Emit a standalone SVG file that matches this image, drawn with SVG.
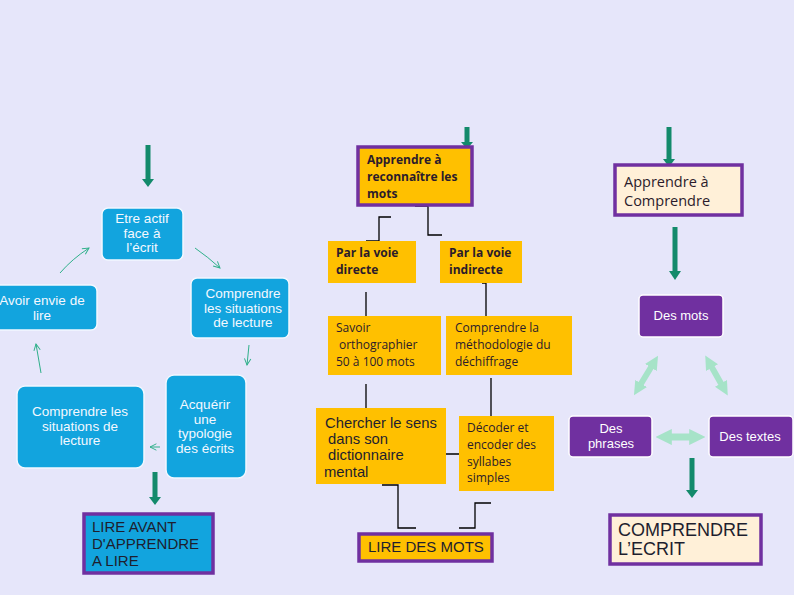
<svg xmlns="http://www.w3.org/2000/svg" width="794" height="595" viewBox="0 0 794 595">
<defs>
<style>
.bg{fill:#E6E6FA}
.blue{fill:#12A4DE;stroke:#F2F8FF;stroke-width:1.5}
.bt{font-family:"Liberation Sans",Arial,sans-serif;font-size:13.5px;fill:#F4F8FF;text-anchor:middle}
.or{fill:#FFC000}
.pb{stroke:#7030A0;stroke-width:3.5}
.ot{font-family:"Open Sans","Noto Sans",sans-serif;font-size:12px;font-weight:bold;fill:#2B1B2B}
.on{font-family:"Open Sans","Noto Sans",sans-serif;font-size:12px;fill:#2B1B2B}
.lt{font-family:"Liberation Sans",Arial,sans-serif;font-size:15px;fill:#1E1E2E}
.cream{fill:#FFF0D8}
.purple{fill:#7030A0;stroke:#FFFFFF;stroke-width:1.5}
.wt{font-family:"Liberation Sans",Arial,sans-serif;font-size:13px;fill:#FFFFFF;text-anchor:middle}
.ln{fill:none;stroke:#000000;stroke-width:1.3}
.thin{fill:none;stroke:#2FB08A;stroke-width:1}
.lg{fill:none;stroke:#A6E3C8;stroke-width:6}
</style>
<marker id="ta" viewBox="0 0 10 10" refX="9" refY="5" markerWidth="8" markerHeight="8" orient="auto" markerUnits="userSpaceOnUse">
<path d="M1,1 L9,5 L1,9" fill="none" stroke="#2FB08A" stroke-width="1.2"/>
</marker>
<marker id="la" viewBox="0 0 10 10" refX="3" refY="5" markerWidth="2.3" markerHeight="2.3" orient="auto-start-reverse" markerUnits="strokeWidth">
<path d="M0,0 L10,5 L0,10 Z" fill="#A6E3C8"/>
</marker>
</defs>
<rect class="bg" x="0" y="0" width="794" height="595"/>

<g id="connectors">
<!-- green thick arrows -->
<path d="M148,145 V180" stroke="#138A6B" stroke-width="5" fill="none"/>
<path d="M142,179 H154 L148,187 Z" fill="#138A6B"/>
<path d="M155,472 V498" stroke="#138A6B" stroke-width="5" fill="none"/>
<path d="M149,497 H161 L155,505 Z" fill="#138A6B"/>
<path d="M467,127 V143" stroke="#138A6B" stroke-width="5" fill="none"/>
<path d="M461,142 H473 L467,149 Z" fill="#138A6B"/>
<path d="M669,127 V160" stroke="#138A6B" stroke-width="5" fill="none"/>
<path d="M663,159 H675 L669,167 Z" fill="#138A6B"/>
<path d="M675,227 V272" stroke="#138A6B" stroke-width="5" fill="none"/>
<path d="M669,271 H681 L675,280 Z" fill="#138A6B"/>
<path d="M692,458 V491" stroke="#138A6B" stroke-width="5" fill="none"/>
<path d="M686,490 H698 L692,498 Z" fill="#138A6B"/>
<!-- thin cycle arrows -->
<path class="thin" d="M60,273 Q72,259 89,248" marker-end="url(#ta)"/>
<path class="thin" d="M195,248 Q208,257 220,268" marker-end="url(#ta)"/>
<path class="thin" d="M249,345 L247,365" marker-end="url(#ta)"/>
<path class="thin" d="M160,447 L150,447" marker-end="url(#ta)"/>
<path class="thin" d="M41,373 L36,344" marker-end="url(#ta)"/>
<!-- black elbow connectors -->
<path class="ln" d="M415,206 H428 V235 H442"/>
<path class="ln" d="M391,217 H379 V241 H366"/>
<path class="ln" d="M366,292 V317"/>
<path class="ln" d="M482,283 H486 V322 H490"/>
<path class="ln" d="M366,384 V409"/>
<path class="ln" d="M491,378 V423"/>
<path class="ln" d="M415,454 H459"/>
<path class="ln" d="M382,485 H398 V528 H416"/>
<path class="ln" d="M491,503 H475 V528 H459"/>
<!-- light green double arrows -->
<path class="lg" d="M653,364 L639,387" marker-start="url(#la)" marker-end="url(#la)"/>
<path class="lg" d="M710,364 L723,387" marker-start="url(#la)" marker-end="url(#la)"/>
<path class="lg" d="M667,437 L694,437" marker-start="url(#la)" marker-end="url(#la)" style="stroke-width:7"/>
</g>

<g id="n-etre">
<rect class="blue" x="102" y="208" width="81" height="52" rx="6"/>
<text class="bt" x="142" y="223">Etre actif</text>
<text class="bt" x="142" y="238">face à</text>
<text class="bt" x="142" y="252">l’écrit</text>
</g>
<g id="n-avoir">
<rect class="blue" x="-8" y="285" width="105" height="45" rx="6"/>
<text class="bt" x="42" y="305">Avoir envie de</text>
<text class="bt" x="42" y="320">lire</text>
</g>
<g id="n-comp1">
<rect class="blue" x="191" y="278" width="98" height="60" rx="6"/>
<text class="bt" x="243" y="298">Comprendre</text>
<text class="bt" x="243" y="313">les situations</text>
<text class="bt" x="243" y="327">de lecture</text>
</g>
<g id="n-comp2">
<rect class="blue" x="17" y="386" width="127" height="82" rx="8"/>
<text class="bt" x="80" y="416">Comprendre les</text>
<text class="bt" x="80" y="431">situations de</text>
<text class="bt" x="80" y="445">lecture</text>
</g>
<g id="n-acq">
<rect class="blue" x="166" y="375" width="80" height="103" rx="8"/>
<text class="bt" x="205" y="409">Acquérir</text>
<text class="bt" x="205" y="424">une</text>
<text class="bt" x="205" y="438">typologie</text>
<text class="bt" x="205" y="453">des écrits</text>
</g>
<g id="n-lireavant">
<rect x="84" y="514" width="129" height="59" fill="#12A4DE" class="pb"/>
<text class="lt" x="92" y="532">LIRE AVANT</text>
<text class="lt" x="92" y="549">D'APPRENDRE</text>
<text class="lt" x="92" y="566">A LIRE</text>
</g>

<g id="n-reconn">
<rect class="or pb" x="358" y="147" width="114" height="58"/>
<text class="ot" x="367" y="164">Apprendre à</text>
<text class="ot" x="367" y="181">reconnaître les</text>
<text class="ot" x="367" y="198">mots</text>
</g>
<g id="n-directe">
<rect class="or" x="328" y="241" width="88" height="42"/>
<text class="ot" x="336" y="257">Par la voie</text>
<text class="ot" x="336" y="274">directe</text>
</g>
<g id="n-indirecte">
<rect class="or" x="440" y="241" width="82" height="42"/>
<text class="ot" x="449" y="257">Par la voie</text>
<text class="ot" x="449" y="274">indirecte</text>
</g>
<g id="n-savoir">
<rect class="or" x="328" y="316" width="113" height="59"/>
<text class="on" x="336" y="332">Savoir</text>
<text class="on" x="339" y="349">orthographier</text>
<text class="on" x="336" y="366">50 à 100 mots</text>
</g>
<g id="n-methodo">
<rect class="or" x="446" y="316" width="126" height="59"/>
<text class="on" x="455" y="332">Comprendre la</text>
<text class="on" x="455" y="349">méthodologie du</text>
<text class="on" x="455" y="366">déchiffrage</text>
</g>
<g id="n-chercher">
<rect class="or" x="316" y="408" width="130" height="76"/>
<text class="lt" x="325" y="428" style="font-size:14.8px">Chercher le sens</text>
<text class="lt" x="328" y="444" style="font-size:14.8px">dans son</text>
<text class="lt" x="328" y="460" style="font-size:14.8px">dictionnaire</text>
<text class="lt" x="324" y="477" style="font-size:14.8px">mental</text>
</g>
<g id="n-decoder">
<rect class="or" x="459" y="416" width="95" height="75"/>
<text class="on" x="467" y="432">Décoder et</text>
<text class="on" x="467" y="449">encoder des</text>
<text class="on" x="467" y="466">syllabes</text>
<text class="on" x="467" y="482">simples</text>
</g>
<g id="n-liremots">
<rect class="or pb" x="359" y="534" width="133" height="27"/>
<text class="lt" x="368" y="552">LIRE DES MOTS</text>
</g>

<g id="n-apcomp">
<rect class="cream pb" x="615" y="165" width="127" height="50"/>
<text class="on" x="624" y="187" style="font-size:14.5px">Apprendre à</text>
<text class="on" x="624" y="206" style="font-size:14.5px">Comprendre</text>
</g>
<g id="n-desmots">
<rect class="purple" x="639" y="295" width="84" height="42" rx="4"/>
<text class="wt" x="681" y="320">Des mots</text>
</g>
<g id="n-desphrases">
<rect class="purple" x="569" y="416" width="83" height="41" rx="4"/>
<text class="wt" x="611" y="433">Des</text>
<text class="wt" x="611" y="448">phrases</text>
</g>
<g id="n-destextes">
<rect class="purple" x="709" y="416" width="84" height="41" rx="4"/>
<text class="wt" x="750" y="441">Des textes</text>
</g>
<g id="n-compecrit">
<rect class="cream pb" x="610" y="515" width="151" height="49"/>
<text class="lt" x="618" y="536" style="font-size:18px">COMPRENDRE</text>
<text class="lt" x="618" y="555" style="font-size:18px">L’ECRIT</text>
</g>
</svg>
